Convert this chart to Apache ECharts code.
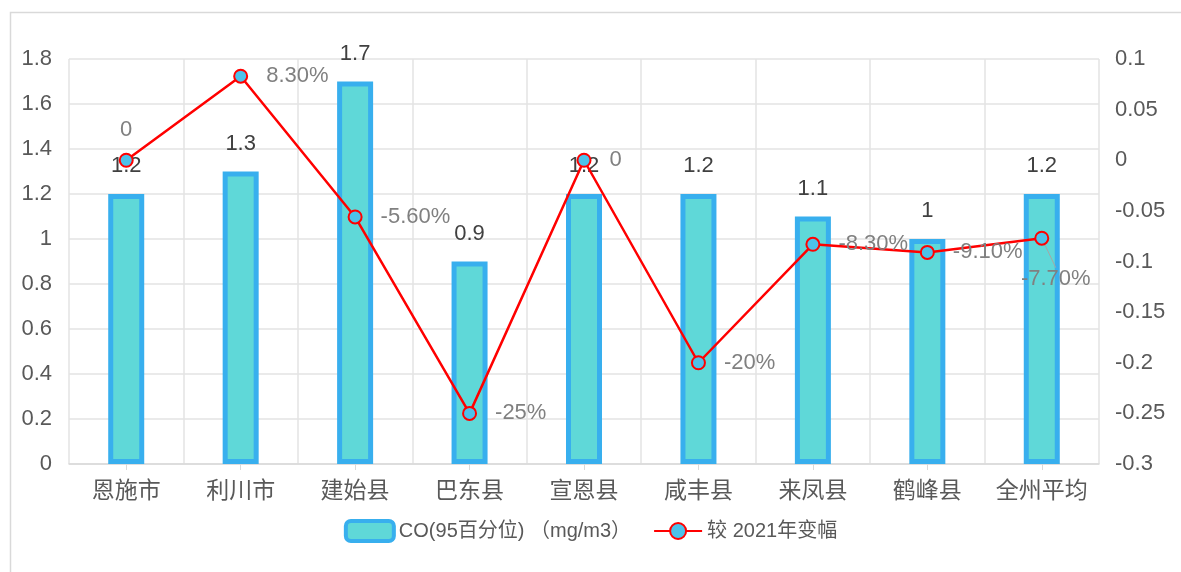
<!DOCTYPE html>
<html><head><meta charset="utf-8">
<script src="https://cdn.jsdelivr.net/npm/echarts@6/dist/echarts.min.js"></script>
<style>html,body{margin:0;padding:0;background:#fff}#c{width:1181px;height:572px}</style>
</head><body><div id="c"></div>
<script>
const categories = ['恩施市','利川市','建始县','巴东县','宣恩县','咸丰县','来凤县','鹤峰县','全州平均'];
const coValues = [1.2, 1.3, 1.7, 0.9, 1.2, 1.2, 1.1, 1.0, 1.2];
const changeValues = [0, 0.083, -0.056, -0.25, 0, -0.2, -0.083, -0.091, -0.077];
const changeLabels = ['0','8.30%','-5.60%','-25%','0','-20%','-8.30%','-9.10%','-7.70%'];
const leftTicks = [0, 1.8, 0.2];
const rightTicks = [-0.3, 0.1, 0.05];

const chart = echarts.init(document.getElementById('c'));
const font = 'Arial, "Liberation Sans", "Noto Sans CJK SC", sans-serif';
const lineData = changeValues.map((v, i) => {
  const d = { value: v };
  if (i === 0) d.label = { position: 'top', distance: 12 };
  if (i === 8) { d.label = { position: 'bottom', distance: 22 }; d.labelLine = { show: true, lineStyle: { color: '#a6a6a6' } }; }
  return d;
});
chart.setOption({
  animation: false,
  textStyle: { fontFamily: font },
  graphic: [{ type: 'rect', shape: { x: 10.5, y: 12.5, width: 1200, height: 600 },
    style: { fill: 'none', stroke: '#d9d9d9', lineWidth: 1.5 }, z: -1 }],
  grid: { left: 69, right: 82, top: 59, bottom: 108 },
  legend: {
    top: 514, left: 'center', itemWidth: 48, itemHeight: 20, itemGap: 22,
    textStyle: { fontSize: 20, color: '#595959', fontFamily: font },
    data: [
      { name: 'CO(95百分位) （mg/m3）', itemStyle: { color: '#5fd8d8', borderColor: '#38afee', borderWidth: 4 } },
      { name: '较 2021年变幅' }
    ]
  },
  xAxis: {
    type: 'category', data: categories,
    axisLine: { lineStyle: { color: '#d9d9d9', width: 1.5 } },
    axisTick: { show: true, alignWithLabel: true, length: 6, lineStyle: { color: '#d9d9d9' } },
    axisLabel: { fontSize: 23, color: '#595959', margin: 16, interval: 0 },
    splitLine: { show: true, lineStyle: { color: '#e3e3e3', width: 1.5 } }
  },
  yAxis: [
    { type: 'value', min: leftTicks[0], max: leftTicks[1], interval: leftTicks[2],
      axisLine: { show: false }, axisTick: { show: false },
      axisLabel: { fontSize: 22, color: '#595959', margin: 17, formatter: v => String(+v.toFixed(1)) },
      splitLine: { lineStyle: { color: '#e3e3e3', width: 1.5 } } },
    { type: 'value', min: rightTicks[0], max: rightTicks[1], interval: rightTicks[2], alignTicks: false,
      axisLine: { show: false }, axisTick: { show: false },
      axisLabel: { fontSize: 22, color: '#595959', margin: 16, formatter: v => String(+v.toFixed(2)) },
      splitLine: { show: false } }
  ],
  series: [
    { name: 'CO(95百分位) （mg/m3）', type: 'bar', data: coValues, barWidth: 36,
      itemStyle: { color: '#5fd8d8', borderColor: '#38afee', borderWidth: 5 },
      label: { show: true, position: 'top', distance: 17, fontSize: 22, color: '#404040' } },
    { name: '较 2021年变幅', type: 'line', yAxisIndex: 1, data: lineData,
      symbol: 'circle', symbolSize: 13,
      lineStyle: { color: '#ff0000', width: 2.5 },
      itemStyle: { color: '#4dc2ea', borderColor: '#ff0000', borderWidth: 2 },
      label: { show: true, position: 'right', distance: 18, fontSize: 22, color: '#808080',
        formatter: p => changeLabels[p.dataIndex] },
      labelLayout: p => p.dataIndex === 8 ? { dx: 14, dy: 0 } : null,
      labelLine: { show: false },
      z: 5 }
  ]
});
</script></body></html>
